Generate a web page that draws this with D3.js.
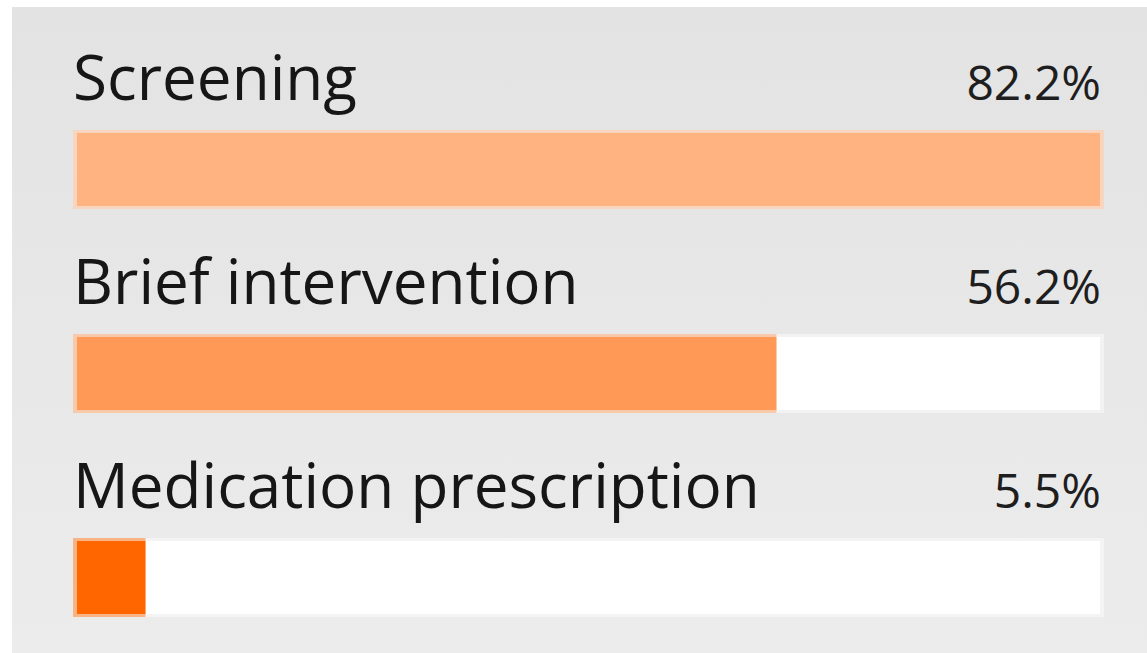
<!DOCTYPE html>
<html>
<head>
<meta charset="utf-8">
<script src="https://cdn.jsdelivr.net/npm/d3@7"></script>
<style>
  html, body { margin: 0; padding: 0; background: #ffffff; }
  svg { display: block; }
</style>
</head>
<body>
<svg id="chart" width="1147" height="653"></svg>
<script>
// Share of patients receiving each type of care
const categories = ["Screening", "Brief intervention", "Medication prescription"];
const values = [82.2, 56.2, 5.5];
const valueLabels = ["82.2%", "56.2%", "5.5%"];
const colors = ["#ffb380", "#ff9955", "#ff6600"];

const width = 1147, height = 653;
const svg = d3.select("#chart");

// Panel background with a soft vertical gradient
const defs = svg.append("defs");
const grad = defs.append("linearGradient")
  .attr("id", "panelBg").attr("x1", 0).attr("y1", 0).attr("x2", 0).attr("y2", 1);
grad.append("stop").attr("offset", "0%").attr("stop-color", "#e3e3e3");
grad.append("stop").attr("offset", "100%").attr("stop-color", "#ececec");

svg.append("rect")
  .attr("x", 12).attr("y", 7)
  .attr("width", width - 12).attr("height", height - 7)
  .attr("fill", "url(#panelBg)");

// Scales: bars share a track that spans the largest value
const trackLeft = 77, trackRight = 1100;
const x = d3.scaleLinear()
  .domain([0, d3.max(values)])
  .range([trackLeft, trackRight]);

const y = d3.scaleBand()
  .domain(categories)
  .range([130, 130 + 204 * categories.length])
  .paddingInner(0)
  .paddingOuter(0);

const border = 4;     // soft halo around track and bar
const barH = 73;      // inner bar height

const rows = svg.selectAll("g.row")
  .data(categories.map((c, i) => ({ c, v: values[i], label: valueLabels[i], color: colors[i] })))
  .join("g")
  .attr("class", "row")
  .attr("transform", d => `translate(0,${y(d.c)})`);

// Track halo and white track
rows.append("rect")
  .attr("x", x(0) - border).attr("y", 0)
  .attr("width", x.range()[1] - x(0) + 2 * border)
  .attr("height", barH + 2 * 3)
  .attr("fill", "#ffffff").attr("fill-opacity", 0.45);
rows.append("rect")
  .attr("x", x(0)).attr("y", 3)
  .attr("width", x.range()[1] - x(0))
  .attr("height", barH)
  .attr("fill", "#ffffff");

// Value bar with its lighter halo
rows.append("rect")
  .attr("x", x(0) - border).attr("y", 0)
  .attr("width", d => x(d.v) - x(0) + (d.v === d3.max(values) ? 2 * border : border))
  .attr("height", barH + 2 * 3)
  .attr("fill", d => d.color).attr("fill-opacity", 0.45);
rows.append("rect")
  .attr("x", x(0)).attr("y", 3)
  .attr("width", d => x(d.v) - x(0))
  .attr("height", barH)
  .attr("fill", d => d.color);

// Category name above each bar
rows.append("text")
  .attr("x", x(0) - border).attr("y", -30)
  .attr("font-family", "'Open Sans', sans-serif")
  .attr("font-size", 62)
  .attr("fill", "#161616")
  .text(d => d.c);

// Percentage at the right end
rows.append("text")
  .attr("x", x.range()[1] + 1).attr("y", -30)
  .attr("text-anchor", "end")
  .attr("font-family", "'Open Sans', sans-serif")
  .attr("font-size", 48)
  .attr("fill", "#1e1e1e")
  .text(d => d.label);
</script>
</body>
</html>
